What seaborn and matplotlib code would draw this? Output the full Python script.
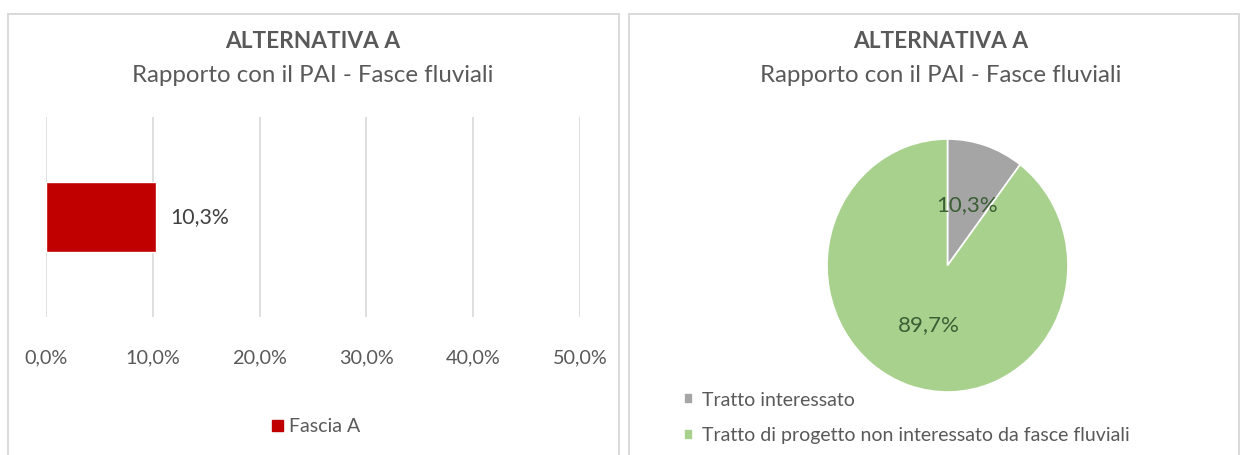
import matplotlib
matplotlib.use("Agg")
import matplotlib.pyplot as plt
from matplotlib.patches import Rectangle
from matplotlib.ticker import FuncFormatter
import seaborn as sns
import pandas as pd

# --- data ---
title = "ALTERNATIVA A"
subtitle = "Rapporto con il PAI - Fasce fluviali"

bar_series = ["Fascia A"]
bar_values = [10.3]          # percent
x_ticks = [0, 10, 20, 30, 40, 50]

pie_labels = ["Tratto interessato",
              "Tratto di progetto non interessato da fasce fluviali"]
pie_values = [10.3, 89.7]    # percent

# --- style ---
sns.set_theme(style="white")
plt.rcParams["font.family"] = ["Lato", "DejaVu Sans"]
TXT = "#595959"
GRID = "#d9d9d9"
RED = "#c00000"
GREY = "#a5a5a5"
GREEN = "#a9d18e"

W, H = 1244, 455
fig = plt.figure(figsize=(W / 100, H / 100), dpi=100)
fig.patch.set_facecolor("white")


def fx(px):
    return px / W


def fy(py):
    return 1 - py / H


def pct(v):
    return f"{v:.1f}%".replace(".", ",")


# panel frames
for x0, x1 in [(8, 619), (629, 1239)]:
    fig.add_artist(Rectangle((fx(x0), fy(470)), fx(x1 - x0), (470 - 14) / H,
                             transform=fig.transFigure, fill=False,
                             edgecolor=GRID, linewidth=1.4))

# titles
for cx in [313, 941]:
    fig.text(fx(cx), fy(42), title, ha="center", va="center",
             fontsize=16.3, fontweight="bold", color=TXT)
    fig.text(fx(cx), fy(76), subtitle, ha="center", va="center",
             fontsize=17.3, color=TXT)

# --- left: horizontal bar chart ---
ax = fig.add_axes([fx(46), fy(317), fx(580 - 46), (317 - 117) / H])
df_bar = pd.DataFrame({"serie": bar_series, "valore": bar_values})
sns.barplot(data=df_bar, x="valore", y="serie", orient="h", color=RED,
            width=0.35, saturation=1, ax=ax)
ax.set_xlim(x_ticks[0], x_ticks[-1])
ax.set_ylim(0.5, -0.5)
ax.set_xticks(x_ticks)
ax.xaxis.set_major_formatter(FuncFormatter(lambda v, p: pct(v)))
ax.tick_params(axis="x", length=0, pad=23, labelsize=14.3, labelcolor=TXT)
ax.set_yticks([])
ax.set_xlabel("")
ax.set_ylabel("")
ax.grid(axis="x", color=GRID, linewidth=1.2)
ax.set_axisbelow(True)
for s in ax.spines.values():
    s.set_visible(False)
for p, v in zip(ax.patches, bar_values):
    ax.text(p.get_width() + 1.3, p.get_y() + p.get_height() / 2, pct(v),
            ha="left", va="center", fontsize=15.3, color="#404040")

# legend of the bar chart
leg = ax.legend(handles=[Rectangle((0, 0), 1, 1, color=RED)], labels=bar_series,
                loc="center", bbox_to_anchor=(fx(316), fy(427)),
                bbox_transform=fig.transFigure, frameon=False,
                fontsize=14, handlelength=0.55, handleheight=0.55,
                handletextpad=0.3)
for t in leg.get_texts():
    t.set_color(TXT)

# --- right: pie chart ---
cx, cy, rx, ry = 947.5, 265.5, 120.5, 126.5
pax = fig.add_axes([fx(cx - rx), fy(cy + ry), fx(2 * rx), 2 * ry / H])
wedges, texts, autotexts = pax.pie(
    pie_values, colors=[GREY, GREEN], startangle=90, counterclock=False,
    autopct=lambda v: pct(v), pctdistance=0.5,
    wedgeprops=dict(edgecolor="white", linewidth=1.2),
    textprops=dict(fontsize=16, color="#3b5e35"))
pax.set_aspect("auto")
pax.set_xlim(-1, 1)
pax.set_ylim(-1, 1)
pax.axis("off")

leg2 = fig.legend(wedges, pie_labels, loc="upper left",
                  bbox_to_anchor=(fx(666), fy(374)), frameon=False,
                  fontsize=14, handlelength=0.5, handleheight=0.5,
                  handletextpad=0.45, labelspacing=0.95)
for t in leg2.get_texts():
    t.set_color(TXT)

fig.savefig("out.png", dpi=100, facecolor="white")
